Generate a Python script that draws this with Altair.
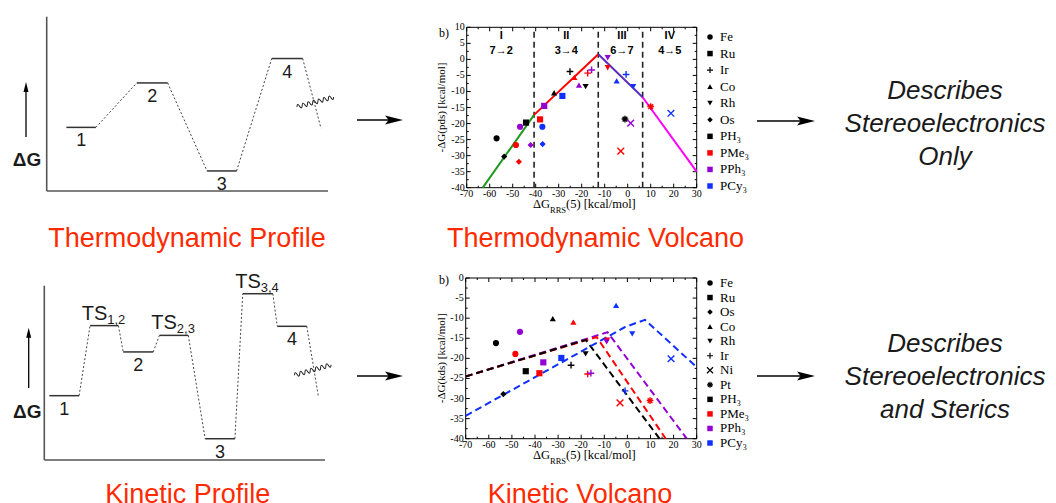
import altair as alt
import pandas as pd

W, H = 1040, 495
SANS = "Liberation Sans"
SERIF = "Liberation Serif"
TITLE_RED = "#ff2a00"
INK = "#1a1a1a"

# ---------------- schematic free-energy profiles (arbitrary units 0-100) ----------------
thermo_names = ["1", "2", "3", "4"]
thermo_subs = ["", "", "", ""]
thermo_G = [36.5, 62.0, 11.5, 76.0]
thermo_start = [7.0, 32.0, 57.0, 80.0]
thermo_end = [17.5, 43.0, 67.5, 91.0]
thermo_tail = [97.5, 36.0]

kin_names = ["1", "TS", "2", "TS", "3", "TS", "4"]
kin_subs = ["", "1,2", "", "2,3", "", "3,4", ""]
kin_G = [36.9, 77.1, 62.0, 71.5, 12.2, 95.4, 76.7]
kin_start = [1.8, 16.3, 28.1, 41.0, 57.3, 70.7, 83.0]
kin_end = [12.4, 26.4, 38.8, 51.3, 67.9, 81.4, 93.5]
kin_tail = [97.6, 36.9]

# ---------------- volcano plots ----------------
ligands = ["PH3", "PMe3", "PPh3", "PCy3"]
ligand_labels = ["PH\u2083", "PMe\u2083", "PPh\u2083", "PCy\u2083"]
ligand_colors = ["#000000", "#ff0000", "#9400d3", "#1030ff"]
metals = ["Fe", "Ru", "Os", "Co", "Rh", "Ir", "Ni", "Pt"]
metal_shapes = ["circle", "square", "diamond", "triangle-up", "triangle-down",
                "M-1,0L1,0M0,-1L0,1",
                "M-1,-1L1,1M-1,1L1,-1",
                "M-1,0L1,0M0,-1L0,1M-0.7,-0.7L0.7,0.7M-0.7,0.7L0.7,-0.7"]

x_ticks = [-70, -60, -50, -40, -30, -20, -10, 0, 10, 20, 30]

# thermodynamic volcano
td_ligand = ["PH3"] * 7 + ["PMe3"] * 8 + ["PPh3"] * 7 + ["PCy3"] * 7
td_metal = ["Fe", "Ru", "Os", "Co", "Ir", "Rh", "Pt",
            "Fe", "Ru", "Os", "Co", "Ir", "Rh", "Ni", "Pt",
            "Fe", "Ru", "Os", "Co", "Ir", "Rh", "Ni",
            "Fe", "Ru", "Os", "Co", "Ir", "Rh", "Ni"]
td_x = [-57.0, -44.2, -53.7, -32.0, -25.1, -18.3, -1.2,
        -48.6, -38.1, -47.3, -23.2, -17.4, -8.7, -3.0, 10.0,
        -46.8, -36.3, -42.2, -21.2, -15.7, -8.7, 1.3,
        -37.1, -28.4, -37.0, -4.8, -0.7, 2.4, 18.8]
td_y = [-24.6, -19.7, -30.3, -10.4, -3.8, -8.5, -18.6,
        -26.7, -18.7, -31.9, -5.6, -4.3, -2.6, -28.6, -14.7,
        -21.0, -14.5, -26.7, -8.0, -3.3, 0.5, -19.9,
        -21.0, -11.4, -26.4, -6.7, -4.7, -8.5, -16.8]
td_line_x = [-63.0, -40.7, -12.8, 6.5, 30.0]
td_line_y = [-40.0, -17.3, 1.6, -11.8, -35.0]
td_seg_colors = ["#1f9a1f", "#ff0000", "#5b2dbd", "#ff00ff"]
td_bounds = [-40.7, -12.8, 6.5]
td_regions = ["I", "II", "III", "IV"]
td_steps = ["7\u21922", "3\u21924", "6\u21927", "4\u21925"]
td_region_x = [-55.0, -26.7, -2.5, 18.3]
td_y_ticks = [-40, -35, -30, -25, -20, -15, -10, -5, 0, 5, 10]
td_legend_metals = ["Fe", "Ru", "Ir", "Co", "Rh", "Os"]

# kinetic volcano
kv_ligand = ["PH3"] * 6 + ["PMe3"] * 7 + ["PPh3"] * 4 + ["PCy3"] * 5
kv_metal = ["Fe", "Ru", "Os", "Co", "Rh", "Ir",
            "Fe", "Ru", "Co", "Rh", "Ir", "Ni", "Pt",
            "Fe", "Ru", "Rh", "Ir",
            "Ru", "Co", "Rh", "Ir", "Ni"]
kv_x = [-56.9, -44.0, -53.7, -32.3, -18.1, -24.4,
        -48.5, -38.1, -23.4, -8.8, -17.2, -3.2, 9.8,
        -46.5, -36.4, -9.0, -15.8,
        -28.6, -4.9, 2.1, -1.0, 18.9]
kv_y = [-16.2, -23.2, -28.9, -10.1, -18.9, -21.7,
        -18.9, -23.7, -11.0, -15.5, -23.9, -31.1, -30.5,
        -13.4, -21.0, -15.9, -23.7,
        -19.9, -6.8, -13.9, -28.1, -20.1]
kv_line_ligand = ["PPh3"] * 3 + ["PMe3"] * 3 + ["PH3"] * 3 + ["PCy3"] * 4
kv_line_x = [-70.0, -8.6, 25.7, -70.0, -13.3, 16.6, -70.0, -18.0, 13.9, -70.0, -1.0, 7.6, 30.0]
kv_line_y = [-24.5, -13.5, -40.0, -24.5, -14.7, -40.0, -24.5, -15.4, -40.0, -34.3, -12.2, -10.4, -22.2]
kv_y_ticks = [-40, -35, -30, -25, -20, -15, -10, -5, 0]
kv_legend_metals = ["Fe", "Ru", "Os", "Co", "Rh", "Ir", "Ni", "Pt"]

# ---------------- helpers ----------------
one = pd.DataFrame({"k": [0]})
SHAPE_SCALE = alt.Scale(domain=metals, range=metal_shapes)
COLOR_SCALE = alt.Scale(domain=ligands, range=ligand_colors)
STROKED = "indexof(['Ir','Ni','Pt'], datum.metal) >= 0"
FILLED = "indexof(['Ir','Ni','Pt'], datum.metal) < 0"


def scale(dom, rng):
    return alt.Scale(domain=dom, range=rng, nice=False, zero=False)


def text_at(s, x, y, **kw):
    kw.setdefault("baseline", "alphabetic")
    return alt.Chart(one).mark_text(text=s, **kw).encode(x=alt.value(x), y=alt.value(y))


HEAD_R = "M-1,-0.5L1,0L-1,0.5L-0.6,0Z"
HEAD_U = "M-0.5,1L0,-1L0.5,1Z"
_n, _st = 14, 2 / 14
WAVE = ("M-1,0Q{:.4f},-0.22 {:.4f},0".format(-1 + _st / 2, -1 + _st)
        + "".join("T{:.4f},0".format(-1 + _st * k) for k in range(2, _n + 1)))


def arrow_right(x1, x2, y, head=18):
    shaft = alt.Chart(one).mark_rule(color="black", strokeWidth=1.3).encode(
        x=alt.value(x1), x2=alt.value(x2 - head / 2), y=alt.value(y))
    tip = alt.Chart(one).mark_point(shape=HEAD_R, size=head ** 2, filled=True, color="black",
                                    opacity=1).encode(x=alt.value(x2 - head / 2), y=alt.value(y))
    return [shaft, tip]


def arrow_up(x, y1, y2, head=10):
    shaft = alt.Chart(one).mark_rule(color="black", strokeWidth=1.3).encode(
        x=alt.value(x), y=alt.value(y1), y2=alt.value(y2 + head / 2))
    tip = alt.Chart(one).mark_point(shape=HEAD_U, size=head ** 2, filled=True, color="black",
                                    opacity=1).encode(x=alt.value(x), y=alt.value(y2 + head / 2))
    return [shaft, tip]


def squiggle(x, y, angle):
    return alt.Chart(one).mark_point(shape=WAVE, size=38 ** 2, filled=False, color=INK,
                                     strokeWidth=1, opacity=1, angle=angle).encode(
        x=alt.value(x), y=alt.value(y))


def profile(names, subs, G, start, end, tail, xr, yr):
    xs, ys = scale([0, 100], xr), scale([0, 100], yr)
    lev = pd.DataFrame({"name": names, "sub": subs, "G": G, "x0": start, "x1": end})
    lev["xc"] = (lev["x0"] + lev["x1"]) / 2
    con = pd.DataFrame({"x0": end, "y0": G,
                        "x1": start[1:] + [tail[0]], "y1": G[1:] + [tail[1]]})
    frame = pd.DataFrame({"x0": [0, 0], "y0": [0, 0], "x1": [0, 100], "y1": [100, 0]})

    def seg(df, **mk):
        return alt.Chart(df).mark_rule(**mk).encode(
            x=alt.X("x0:Q", scale=xs, axis=None), x2=alt.X2("x1"),
            y=alt.Y("y0:Q", scale=ys, axis=None), y2=alt.Y2("y1"))

    axes = seg(frame, color="#555555", strokeWidth=1.6)
    conn = seg(con, color="#444444", strokeWidth=1, strokeDash=[2, 2])
    levels = alt.Chart(lev).mark_rule(color="#333333", strokeWidth=1.5).encode(
        x=alt.X("x0:Q", scale=xs, axis=None), x2=alt.X2("x1"),
        y=alt.Y("G:Q", scale=ys, axis=None))
    pos = dict(x=alt.X("xc:Q", scale=xs, axis=None), y=alt.Y("G:Q", scale=ys, axis=None))
    nums = alt.Chart(lev).transform_filter("datum.sub == ''").mark_text(
        font=SANS, fontSize=18, dy=14, color=INK).encode(text="name:N", **pos)
    ts = alt.Chart(lev).transform_filter("datum.sub != ''").mark_text(
        font=SANS, fontSize=20, dy=-12, dx=3, align="right", color=INK).encode(text="name:N", **pos)
    tsub = alt.Chart(lev).transform_filter("datum.sub != ''").mark_text(
        font=SANS, fontSize=13, dy=-6, dx=3, align="left", color=INK).encode(text="sub:N", **pos)
    return alt.layer(axes, conn, levels, nums, ts, tsub)


def volcano(px, py, pl, pm, xr, yr, ydom, yvals, ytitle, title_x, extra):
    xs, ys = scale([-70, 30], xr), scale(ydom, yr)
    frame = alt.Chart(pd.DataFrame({"x0": [-70], "x1": [30], "y0": [ydom[0]], "y1": [ydom[1]]})
                      ).mark_rect(fillOpacity=0, stroke="black", strokeWidth=1).encode(
        x=alt.X("x0:Q", scale=xs, axis=None), x2=alt.X2("x1"),
        y=alt.Y("y0:Q", scale=ys, axis=None), y2=alt.Y2("y1"))

    layers = [frame]
    xmin, xmaj = [v + 5 for v in x_ticks[:-1]], x_ticks
    ymaj = yvals
    ymin = [v + 2.5 for v in yvals[:-1]]
    for vals, L in ((ymaj, 4), (ymin, 2)):
        df = pd.DataFrame({"v": vals})
        for xv, off in ((-70, L), (30, -L)):
            layers.append(alt.Chart(df).mark_rule(color="black", strokeWidth=1, x2Offset=off).encode(
                x=alt.XDatum(xv, scale=xs, axis=None), x2=alt.X2Datum(xv),
                y=alt.Y("v:Q", scale=ys, axis=None)))
    for vals, L in ((xmaj, 4), (xmin, 2)):
        df = pd.DataFrame({"v": vals})
        for yv, off in ((ydom[0], -L), (ydom[1], L)):
            layers.append(alt.Chart(df).mark_rule(color="black", strokeWidth=1, y2Offset=off).encode(
                y=alt.YDatum(yv, scale=ys, axis=None), y2=alt.Y2Datum(yv),
                x=alt.X("v:Q", scale=xs, axis=None)))

    # tick labels
    ylab = pd.DataFrame({"v": yvals})
    layers.append(alt.Chart(ylab).transform_calculate(lab="toString(datum.v)").mark_text(
        font=SERIF, fontSize=10, align="right", baseline="middle", dx=-2, color="black").encode(
        x=alt.XDatum(-70, scale=xs, axis=None), y=alt.Y("v:Q", scale=ys, axis=None), text="lab:N"))
    xlab = pd.DataFrame({"v": x_ticks})
    layers.append(alt.Chart(xlab).transform_calculate(lab="toString(datum.v)").mark_text(
        font=SERIF, fontSize=10, align="center", baseline="top", dy=1, color="black").encode(
        x=alt.X("v:Q", scale=xs, axis=None), y=alt.YDatum(ydom[0], scale=ys, axis=None),
        text="lab:N"))
    # y title (rotated), centred on the axis
    layers.append(alt.Chart(one).mark_text(
        text=ytitle, font=SERIF, fontSize=11, angle=270, baseline="middle", color="black").encode(
        x=alt.value(title_x), y=alt.YDatum((ydom[0] + ydom[1]) / 2, scale=ys, axis=None)))

    layers += extra(xs, ys)

    pts = pd.DataFrame({"x": px, "y": py, "ligand": pl, "metal": pm})
    enc = dict(x=alt.X("x:Q", scale=xs, axis=None), y=alt.Y("y:Q", scale=ys, axis=None),
               shape=alt.Shape("metal:N", scale=SHAPE_SCALE, legend=None),
               color=alt.Color("ligand:N", scale=COLOR_SCALE, legend=None))
    layers.append(alt.Chart(pts).transform_filter(FILLED).mark_point(
        filled=True, size=38, opacity=1).encode(**enc))
    layers.append(alt.Chart(pts).transform_filter(STROKED).mark_point(
        filled=False, size=45, strokeWidth=1.4, opacity=1).encode(**enc))
    return alt.layer(*layers)


def td_extra(xs, ys):
    out = []
    bnd = pd.DataFrame({"b": td_bounds})
    out.append(alt.Chart(bnd).mark_rule(color="#222222", strokeWidth=1.6, strokeDash=[6, 4]).encode(
        x=alt.X("b:Q", scale=xs, axis=None),
        y=alt.YDatum(-40, scale=ys, axis=None), y2=alt.Y2Datum(10)))
    for i, col in enumerate(td_seg_colors):
        df = pd.DataFrame({"x": td_line_x[i:i + 2], "y": td_line_y[i:i + 2]})
        out.append(alt.Chart(df).mark_line(color=col, strokeWidth=2).encode(
            x=alt.X("x:Q", scale=xs, axis=None), y=alt.Y("y:Q", scale=ys, axis=None)))
    reg = pd.DataFrame({"x": td_region_x, "name": td_regions, "step": td_steps})
    out.append(alt.Chart(reg).mark_text(font=SANS, fontWeight="bold", fontSize=11, color="black").encode(
        x=alt.X("x:Q", scale=xs, axis=None), y=alt.YDatum(7.3, scale=ys, axis=None), text="name:N"))
    out.append(alt.Chart(reg).mark_text(font=SANS, fontWeight="bold", fontSize=11, color="black").encode(
        x=alt.X("x:Q", scale=xs, axis=None), y=alt.YDatum(2.7, scale=ys, axis=None), text="step:N"))
    return out


def kv_extra(xs, ys):
    out = []
    df = pd.DataFrame({"x": kv_line_x, "y": kv_line_y, "ligand": kv_line_ligand,
                       "i": list(range(len(kv_line_x)))})
    for lig in ["PPh3", "PMe3", "PH3", "PCy3"]:
        col = ligand_colors[ligands.index(lig)]
        out.append(alt.Chart(df).transform_filter(alt.datum.ligand == lig).mark_line(
            color=col, strokeWidth=2, strokeDash=[7, 4]).encode(
            x=alt.X("x:Q", scale=xs, axis=None), y=alt.Y("y:Q", scale=ys, axis=None),
            order="i:Q"))
    return out


def legend(metal_keys, yr, xm, xt):
    n = len(metal_keys) + len(ligands)
    ys = scale([0, n - 1], yr)
    df = pd.DataFrame({"i": list(range(n)),
                       "label": list(metal_keys) + ligand_labels,
                       "metal": list(metal_keys) + [""] * len(ligands),
                       "ligand": [""] * len(metal_keys) + ligands})
    y = alt.Y("i:Q", scale=ys, axis=None)
    shp = alt.Shape("metal:N", scale=SHAPE_SCALE, legend=None)
    mets = alt.Chart(df).transform_filter("datum.metal != ''")
    f = mets.transform_filter(FILLED).mark_point(filled=True, size=30, color="black", opacity=1).encode(
        x=alt.value(xm), y=y, shape=shp)
    s = mets.transform_filter(STROKED).mark_point(filled=False, size=36, strokeWidth=1.2, color="black",
                                                  opacity=1).encode(x=alt.value(xm), y=y, shape=shp)
    sq = alt.Chart(df).transform_filter("datum.ligand != ''").mark_square(size=30, opacity=1).encode(
        x=alt.value(xm), y=y, color=alt.Color("ligand:N", scale=COLOR_SCALE, legend=None))
    tx = alt.Chart(df).mark_text(font=SERIF, fontSize=13, align="left", baseline="middle",
                                 color="black").encode(x=alt.value(xt), y=y, text="label:N")
    return alt.layer(f, s, sq, tx)


def xtitle(x, y):
    return [text_at("\u0394G", x, y, font=SERIF, fontSize=12.5, align="right", color="black"),
            text_at("RRS", x, y + 5, font=SERIF, fontSize=8.5, align="left", color="black"),
            text_at("(5) [kcal/mol]", x + 16, y, font=SERIF, fontSize=12.5, align="left",
                    color="black")]


# ---------------- assemble ----------------
thermo = profile(thermo_names, thermo_subs, thermo_G, thermo_start, thermo_end, thermo_tail,
                 [38.7, 320], [183, 8.7])
kinetic = profile(kin_names, kin_subs, kin_G, kin_start, kin_end, kin_tail,
                  [36.3, 317], [452, 277.7])
volc1 = volcano(td_x, td_y, td_ligand, td_metal, [458.7, 688.7], [179.7, 19.3], [-40, 10],
                td_y_ticks, "-\u0394G(pds) [kcal/mol]", 434, td_extra)
volc2 = volcano(kv_x, kv_y, kv_ligand, kv_metal, [457.7, 688.7], [430.7, 270], [-40, 0],
                kv_y_ticks, "-\u0394G(kds) [kcal/mol]", 434, kv_extra)
leg1 = legend(td_legend_metals, [29, 178], 702, 712)
leg2 = legend(kv_legend_metals, [275, 435], 702, 712)

notes = []
notes += arrow_up(18, 129, 74)
notes += arrow_up(20.7, 380, 319.7)
notes += [text_at("\u0394G", 19, 152, font=SANS, fontSize=19, fontWeight="bold", baseline="middle",
                  color=INK),
          text_at("\u0394G", 19.3, 403.7, font=SANS, fontSize=19, fontWeight="bold",
                  baseline="middle", color=INK),
          squiggle(307.3, 94, 345),
          squiggle(304.8, 362, 344)]
notes += arrow_right(349, 395, 112)
notes += arrow_right(349, 395, 368)
notes += arrow_right(749, 807, 113)
notes += arrow_right(749, 807, 368)
notes += [text_at("b)", 436, 25, font=SERIF, fontSize=12, baseline="middle", color="black"),
          text_at("b)", 436, 272, font=SERIF, fontSize=12, baseline="middle", color="black")]
notes += xtitle(542, 200) + xtitle(542, 451)
title_kw = dict(font=SANS, fontSize=27, color=TITLE_RED, align="center")
notes += [text_at("Thermodynamic Profile", 179, 239, **title_kw),
          text_at("Thermodynamic Volcano", 587.5, 239, **title_kw),
          text_at("Kinetic Profile", 179.7, 495, **title_kw),
          text_at("Kinetic Volcano", 572, 495, **title_kw)]
desc_kw = dict(font=SANS, fontSize=26, fontStyle="italic", color=INK, align="center",
               lineBreak="\n", lineHeight=33)
notes += [text_at("Describes\nStereoelectronics\nOnly", 937, 91, **desc_kw),
          text_at("Describes\nStereoelectronics\nand Sterics", 937, 344, **desc_kw)]

chart = alt.layer(thermo, kinetic, volc1, volc2, leg1, leg2, *notes).resolve_scale(
    x="independent", y="independent").properties(
    width=W, height=H, padding=0, autosize=alt.AutoSizeParams(type="none"),
    background="white").configure_view(stroke=None)

chart.save("out.html", embed_options={"renderer": "svg", "actions": False})
